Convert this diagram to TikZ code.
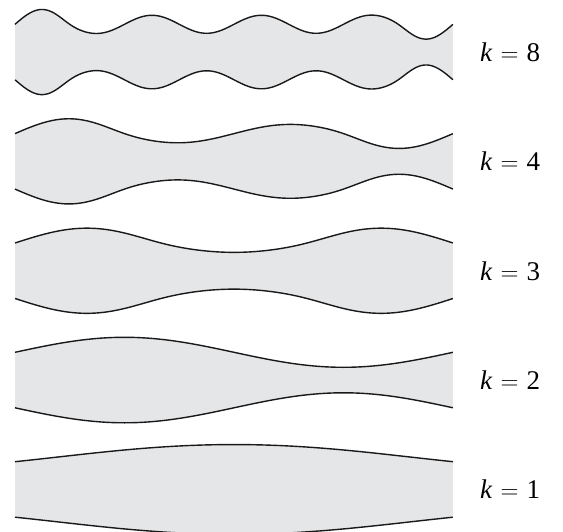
\documentclass[tikz,border=0pt]{standalone}
\usepackage{fontspec}
\setmainfont{Liberation Serif}
\definecolor{bandgray}{RGB}{229,230,232}
\tikzset{
  bandfill/.style={fill=bandgray},
  wall/.style={draw=black!90, line width=1.4pt, line join=round},
  lab/.style={inner sep=0pt, anchor=base west, font=\fontsize{27}{30}\selectfont},
  declare function={
    wav(\t,\k,\a,\b)= sin(\k*180*\t)*(\a
      + \b/(1+exp(max(-9,min(9,(\k*pi*\t-pi)/0.45))))
      + \b/(1+exp(max(-9,min(9,((\k-1)*pi-\k*pi*\t)/0.45)))));
  }
}
% #1 = k, #2 = top mean y, #3 = base amplitude, #4 = end extra
\newcommand\myband[4]{%
  \fill[bandfill]
    plot[domain=0:1,samples=241,variable=\t] ({15+438*\t},{#2 - wav(\t,#1,#3,#4)})
    -- plot[domain=1:0,samples=241,variable=\t] ({15+438*\t},{#2+55.5 + wav(\t,#1,#3,#4)})
    -- cycle;
  \draw[wall] plot[domain=0:1,samples=241,variable=\t] ({15+438*\t},{#2 - wav(\t,#1,#3,#4)});
  \draw[wall] plot[domain=0:1,samples=241,variable=\t] ({15+438*\t},{#2+55.5 + wav(\t,#1,#3,#4)});
}
\newcommand\klab[1]{\textit{k}\hspace{0.3em}$=$\hspace{0.3em}#1}
\begin{document}
\begin{tikzpicture}[x=1pt,y=-1pt]
  \useasboundingbox (0,0) rectangle (563,532);
  \myband{8}{24.3}{9}{6}
  \myband{4}{133.6}{9}{6}
  \myband{3}{243.0}{9}{6}
  \myband{2}{352.3}{9}{6}
  \myband{1}{461.7}{5.5}{6}
  \node[lab] (l8) at (480,61.3) {\klab{8}};
  \node[lab] (l4) at (480,170.6) {\klab{4}};
  \node[lab] (l3) at (480,280.0) {\klab{3}};
  \node[lab] (l2) at (480,389.3) {\klab{2}};
  \node[lab] (l1) at (480,498.6) {\klab{1}};
\end{tikzpicture}
\end{document}
